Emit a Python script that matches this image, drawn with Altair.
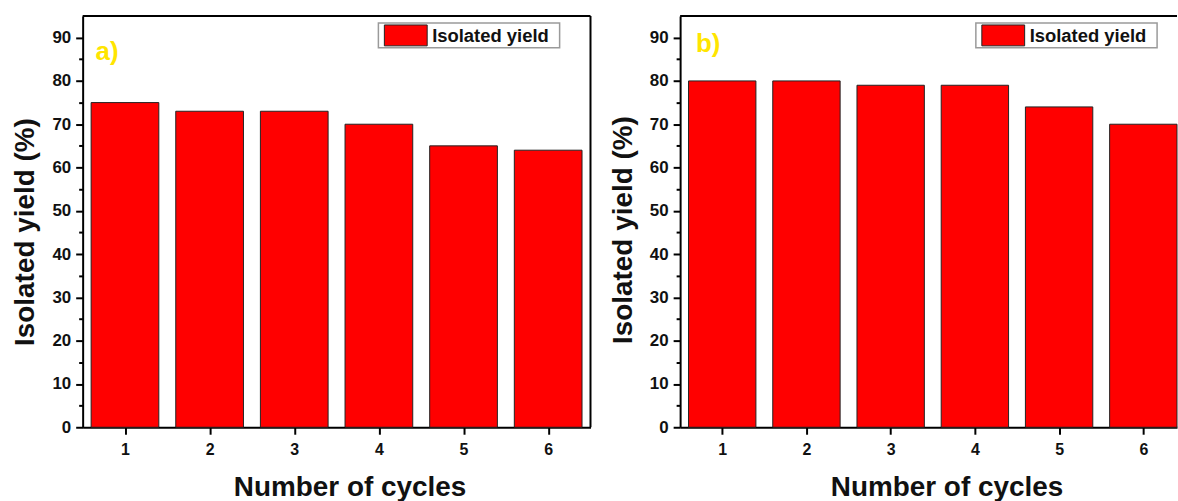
import altair as alt
import pandas as pd

# Recycling runs and isolated yields for the two catalyst systems
cycles = [1, 2, 3, 4, 5, 6]
yield_a = [75, 73, 73, 70, 65, 64]
yield_b = [80, 80, 79, 79, 74, 70]

# Axis tick positions (major + minor)
y_ticks = [0, 5, 10, 15, 20, 25, 30, 35, 40, 45, 50, 55, 60, 65, 70, 75, 80, 85, 90]
x_ticks = [1, 1.5, 2, 2.5, 3, 3.5, 4, 4.5, 5, 5.5, 6]

legend_label = ["Isolated yield"]
panel_tags = ["a)", "b)"]

FONT = "Liberation Sans"
RED = "#FF0000"
YELLOW = "#FFE500"
HEIGHT = 413


def make_axis(title, values, major_test, label_size, title_pad, label_pad,
              title_x=None, title_y=None):
    opts = dict(
        title=title,
        values=values,
        format="d",
        labelExpr=f"{major_test} ? datum.label : ''",
        labelOverlap=False,
        labelFont=FONT,
        labelFontSize=label_size,
        labelFontWeight="bold",
        labelColor="#111111",
        labelPadding=label_pad,
        titleFont=FONT,
        titleFontSize=28,
        titleFontWeight="bold",
        titleColor="#111111",
        titlePadding=title_pad,
        domainColor="black",
        domainWidth=2,
        tickColor="black",
        tickWidth=2,
        tickSize={"condition": {"test": major_test, "value": 7}, "value": 4},
        grid=False,
    )
    if title_x is not None:
        opts["titleX"] = title_x
    if title_y is not None:
        opts["titleY"] = title_y
    return alt.Axis(**opts)


def panel(values, tag, width, x_domain, right_frame, lift, x_shift, y_shift):
    df = pd.DataFrame({"cycle": cycles, "yield": values})
    x_scale = alt.Scale(domain=x_domain, nice=False, zero=False)
    y_scale = alt.Scale(domain=[0, 95], nice=False)

    bars = (
        alt.Chart(df)
        .transform_calculate(x0="datum.cycle - 0.4", x1="datum.cycle + 0.4", base="0")
        .mark_bar(color=RED, stroke="#222222", strokeWidth=1)
        .encode(
            x=alt.X("x0:Q", scale=x_scale,
                    axis=make_axis("Number of cycles", x_ticks,
                                   "datum.value % 1 === 0", 16, 17, 7,
                                   title_x=width / 2 + x_shift)),
            x2="x1:Q",
            y=alt.Y("yield:Q", scale=y_scale,
                    axis=make_axis("Isolated yield (%)", y_ticks,
                                   "datum.value % 10 === 0", 17, 12, 5,
                                   title_y=HEIGHT / 2 + y_shift)),
            y2="base:Q",
        )
    )

    one = pd.DataFrame({"k": [0]})
    layers = [bars]

    # frame: top edge (and right edge when the panel is complete)
    layers.append(
        alt.Chart(one).mark_rule(color="black", strokeWidth=2)
        .encode(x=alt.value(0), x2=alt.value(width), y=alt.value(0))
    )
    if right_frame:
        layers.append(
            alt.Chart(one).mark_rule(color="black", strokeWidth=2)
            .encode(x=alt.value(width), y=alt.value(0), y2=alt.value(HEIGHT))
        )
    if lift:
        layers.append(
            alt.Chart(one).mark_rule(opacity=0)
            .encode(x=alt.value(0), x2=alt.value(1), y=alt.value(-lift))
        )

    # legend box
    leg = pd.DataFrame({"label": legend_label})
    layers.append(
        alt.Chart(leg).mark_rect(fill="white", stroke="#9a9a9a", strokeWidth=1.5)
        .encode(x=alt.value(297), x2=alt.value(479), y=alt.value(7), y2=alt.value(32))
    )
    layers.append(
        alt.Chart(leg).mark_rect(fill=RED, stroke="#222222", strokeWidth=1)
        .encode(x=alt.value(303), x2=alt.value(346), y=alt.value(9), y2=alt.value(30))
    )
    layers.append(
        alt.Chart(leg).mark_text(align="left", baseline="middle", font=FONT,
                                 fontSize=18.5, fontWeight="bold", color="#111111")
        .encode(x=alt.value(351), y=alt.value(20), text="label:N")
    )

    # panel tag
    tag_df = pd.DataFrame({"tag": [tag[0]]})
    layers.append(
        alt.Chart(tag_df).mark_text(align="left", baseline="middle", font=FONT,
                                    fontSize=26, fontWeight="bold", color=YELLOW)
        .encode(x=alt.value(tag[1]), y=alt.value(tag[2]), text="tag:N")
    )

    return alt.layer(*layers).properties(width=width, height=HEIGHT)


left = panel(yield_a, (panel_tags[0], 13, 36), 510, [0.5, 6.5], True, 3, 13, 10)
right = panel(yield_b, (panel_tags[1], 16, 28), 499, [0.5, 6.4], False, 0, 18, 8)

chart = (
    alt.hconcat(left, right, spacing=18)
    .properties(padding={"left": 12, "top": 12, "right": 0, "bottom": 0},
                background="white")
    .configure_view(stroke=None)
)

chart.save("out.html", embed_options={"renderer": "svg", "actions": False})
